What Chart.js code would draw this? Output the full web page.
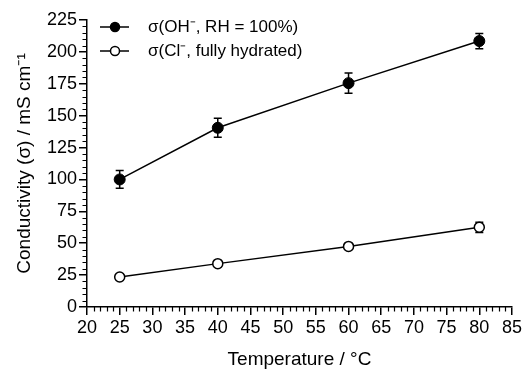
<!DOCTYPE html>
<html>
<head>
<meta charset="utf-8">
<script src="https://cdn.jsdelivr.net/npm/chart.js@4"></script>
<style>
  html, body { margin: 0; padding: 0; background: #fff; }
  #wrap { width: 531px; height: 369px; }
</style>
</head>
<body>
<div id="wrap"><canvas id="condChart" width="531" height="369"></canvas></div>
<script>
const temps = [25, 40, 60, 80];
const ohVals = [100, 140.5, 175.5, 208.5];
const ohErr = [7, 7.5, 8, 6];
const clVals = [23.5, 34, 47.5, 62.5];
const clErr = [1.5, 1.5, 1.5, 4];
const seriesLabels = ['σ(OH⁻, RH = 100%)', 'σ(Cl⁻, fully hydrated)'];
const xTicks = [20, 25, 30, 35, 40, 45, 50, 55, 60, 65, 70, 75, 80, 85];
const yTicks = [0, 25, 50, 75, 100, 125, 150, 175, 200, 225];

const errors = [ohErr, clErr];
const font = 'Liberation Sans, Arial, sans-serif';

// error bars, minor ticks and the in-plot legend
const extras = {
  id: 'extras',
  beforeDatasetsDraw(chart) {
    const ctx = chart.ctx;
    const x = chart.scales.x, y = chart.scales.y;
    ctx.save();
    ctx.strokeStyle = '#000';
    ctx.lineWidth = 1.5;
    chart.data.datasets.forEach((ds, i) => {
      ds.data.forEach((p, j) => {
        const px = x.getPixelForValue(p.x);
        const top = y.getPixelForValue(p.y + errors[i][j]);
        const bot = y.getPixelForValue(p.y - errors[i][j]);
        ctx.beginPath();
        ctx.moveTo(px, top); ctx.lineTo(px, bot);
        ctx.moveTo(px - 4, top); ctx.lineTo(px + 4, top);
        ctx.moveTo(px - 4, bot); ctx.lineTo(px + 4, bot);
        ctx.stroke();
      });
    });
    ctx.restore();
  },
  afterDraw(chart) {
    const ctx = chart.ctx;
    const x = chart.scales.x, y = chart.scales.y;
    ctx.save();
    ctx.strokeStyle = '#000';
    ctx.lineWidth = 1.2;
    ctx.beginPath();
    for (let v = 21; v < 85; v++) {
      if (v % 5 === 0) continue;
      const px = Math.round(x.getPixelForValue(v)) + 0.5;
      ctx.moveTo(px, y.bottom); ctx.lineTo(px, y.bottom + 4.5);
    }
    for (let v = 5; v < 225; v += 5) {
      if (v % 25 === 0) continue;
      const py = Math.round(y.getPixelForValue(v)) + 0.5;
      ctx.moveTo(x.left, py); ctx.lineTo(x.left - 4.5, py);
    }
    ctx.stroke();

    // legend
    ctx.font = '17px ' + font;
    ctx.textBaseline = 'middle';
    ctx.fillStyle = '#000';
    chart.data.datasets.forEach((ds, i) => {
      const ly = 27 + i * 24;
      ctx.lineWidth = 1.5;
      ctx.beginPath();
      ctx.moveTo(100, ly); ctx.lineTo(129, ly);
      ctx.stroke();
      ctx.beginPath();
      ctx.arc(115, ly, 4.5, 0, Math.PI * 2);
      ctx.fillStyle = ds.pointBackgroundColor;
      ctx.fill();
      ctx.stroke();
      ctx.fillStyle = '#000';
      ctx.fillText(ds.label, 148, ly);
    });
    ctx.restore();
  }
};

new Chart(document.getElementById('condChart').getContext('2d'), {
  type: 'line',
  data: {
    datasets: [{
      label: seriesLabels[0],
      data: temps.map((t, i) => ({ x: t, y: ohVals[i] })),
      borderColor: '#000',
      borderWidth: 1.5,
      pointRadius: 5.5,
      pointBackgroundColor: '#000',
      pointBorderColor: '#000',
      pointBorderWidth: 1
    }, {
      label: seriesLabels[1],
      data: temps.map((t, i) => ({ x: t, y: clVals[i] })),
      borderColor: '#000',
      borderWidth: 1.5,
      pointRadius: 5,
      pointBackgroundColor: '#fff',
      pointBorderColor: '#000',
      pointBorderWidth: 1.5
    }]
  },
  options: {
    responsive: false,
    animation: false,
    layout: { padding: { top: 20, right: 19, left: 0, bottom: 0 } },
    plugins: {
      legend: { display: false },
      tooltip: { enabled: false }
    },
    scales: {
      x: {
        type: 'linear',
        min: 20,
        max: 85,
        afterBuildTicks: s => { s.ticks = xTicks.map(v => ({ value: v })); },
        afterFit: s => { s.height = 62; },
        ticks: { color: '#000', font: { family: font, size: 18 }, padding: 2, maxRotation: 0 },
        grid: { drawOnChartArea: false, tickLength: 8, color: '#000', lineWidth: 1.5 },
        border: { color: '#000', width: 1.5 },
        title: { display: true, text: 'Temperature / °C', color: '#000', font: { family: font, size: 19 }, padding: { top: 4, bottom: -2 } }
      },
      y: {
        min: 0,
        max: 225,
        afterBuildTicks: s => { s.ticks = yTicks.map(v => ({ value: v })); },
        afterFit: s => { s.width = 87; },
        ticks: { color: '#000', font: { family: font, size: 18 }, padding: 2 },
        grid: { drawOnChartArea: false, tickLength: 8, color: '#000', lineWidth: 1.5 },
        border: { color: '#000', width: 1.5 },
        title: { display: true, text: 'Conductivity (σ) / mS cm⁻¹', color: '#000', font: { family: font, size: 19 }, padding: { top: 13, bottom: 2 } }
      }
    }
  },
  plugins: [extras]
});
</script>
</body>
</html>
